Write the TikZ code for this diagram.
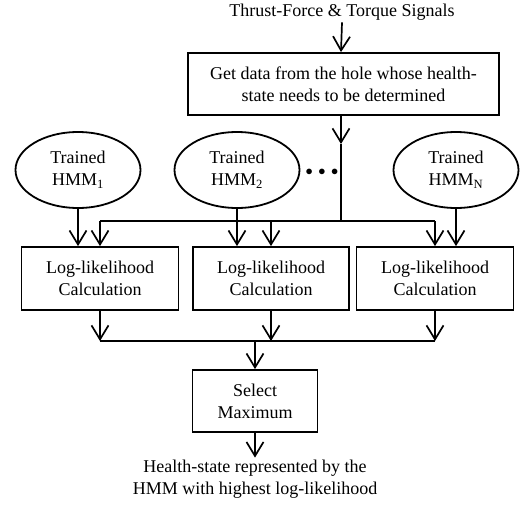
\documentclass[tikz,border=0pt]{standalone}
\usepackage{fontspec}
\setmainfont{Liberation Serif}
\usetikzlibrary{positioning,shapes.geometric,arrows.meta}
\tikzset{
  block/.style={draw, rectangle, line width=1.8pt, align=center, inner sep=0pt},
  model/.style={draw, ellipse, line width=1.8pt, minimum width=125pt, minimum height=76pt, inner sep=0pt, align=center},
  plain/.style={inner sep=2pt, align=center},
  flow/.style={-{Straight Barb[length=14pt,width=17pt,line width=1.7pt]}, line width=1.7pt},
  wire/.style={line width=1.7pt}
}

\begin{document}
\begin{tikzpicture}[x=1pt,y=-1pt,font=\fontsize{18}{22}\selectfont]
                   \useasboundingbox (0,0) rectangle (521,506);
                   \node[plain] (signals) at (342,12) {Thrust-Force \& Torque Signals};
                   \node[block, minimum width=311pt, minimum height=62pt] (getdata) at (343.5,84) {Get data from the hole whose health-\\state needs to be determined};
                   \node[model] (hmm1) at (78,170) {Trained\\HMM\textsubscript{1}};
                   \node[model] (hmm2) at (237,170) {Trained\\HMM\textsubscript{2}};
                   \node[model] (hmmN) at (456,170) {Trained\\HMM\textsubscript{N}};
                   \node[font=\fontsize{15}{18}\selectfont] (dots) at (322,172) {$\bullet\,\bullet\,\bullet$};
                   \node[block, minimum width=157pt, minimum height=63pt] (calc1) at (100,278.5) {Log-likelihood\\Calculation};
                   \node[block, minimum width=156pt, minimum height=63pt] (calc2) at (271,278.5) {Log-likelihood\\Calculation};
                   \node[block, minimum width=157pt, minimum height=63pt] (calc3) at (435,278.5) {Log-likelihood\\Calculation};
                   \node[block, minimum width=125pt, minimum height=62pt] (select) at (255,401) {Select\\Maximum};
                   \node[plain] (result) at (255,479) {Health-state represented by the\\HMM with highest log-likelihood};
                   \coordinate (split) at (341,144);
                   \coordinate (bus) at (341,221);
                   \coordinate (merge) at (255,341);
                    % input side
                    \draw[flow] (signals.south -| getdata) ++(-1.5,0) -- (getdata.north -| split);
                    \draw[flow] (getdata.south -| split) -- (split);
                    \draw[wire] (split) -- (bus);
                    \draw[wire] (calc1.north |- bus) -- (calc3.north |- bus);
                    \foreach \c in {calc1,calc2,calc3}
                      \draw[flow] (\c.north |- bus) -- (\c.north);
                    \draw[flow] (hmm1.south) -- (hmm1.south |- calc1.north);
                    \draw[flow] (hmm2.south) -- (hmm2.south |- calc2.north);
                    \draw[flow] (hmmN.south) -- (hmmN.south |- calc3.north);
                    % output side
                    \draw[wire] (calc1.south |- merge) -- (calc3.south |- merge);
                    \foreach \c in {calc1,calc2,calc3}
                      \draw[flow] (\c.south) -- (\c.south |- merge);
                    \draw[flow] (merge) -- (select.north);
                    \draw[flow] (select.south) -- (result.north);
                \end{tikzpicture}
\end{document}
